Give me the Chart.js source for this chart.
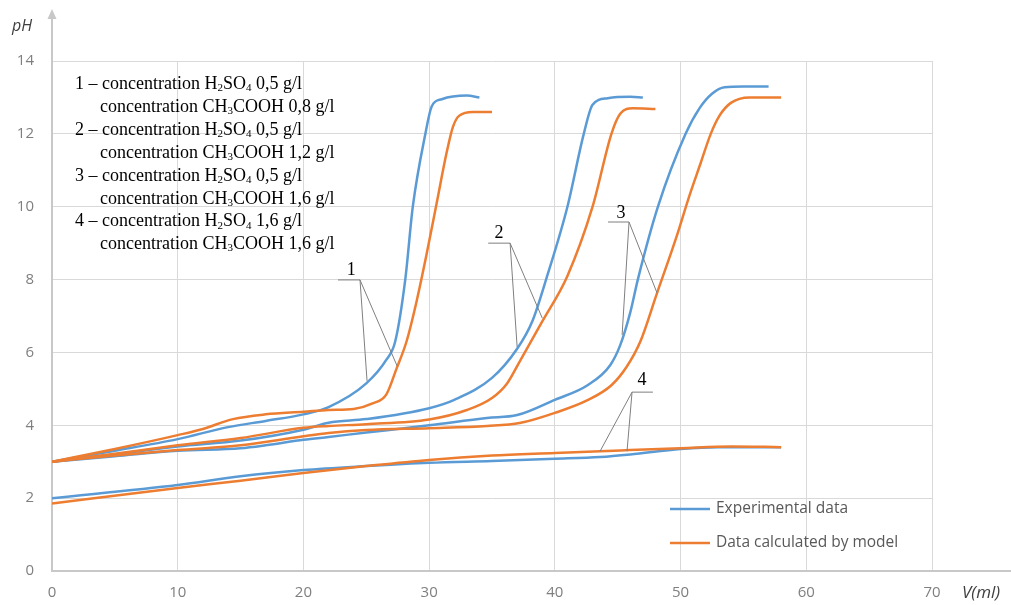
<!DOCTYPE html>
<html lang="en">
<head>
  <meta charset="UTF-8">
  <title>pH titration curves</title>
  <script src="https://cdn.jsdelivr.net/npm/chart.js"></script>
  <style>
    html, body { margin: 0; padding: 0; background: #ffffff; }
    .chart-container { width: 1011px; height: 605px; position: relative; }
  </style>
</head>
<body>
  <div class="chart-container">
    <canvas id="phChart" width="1011" height="605"></canvas>
  </div>

  <script>
    // axis ticks
    const xTicks = [0, 10, 20, 30, 40, 50, 60, 70];
    const yTicks = [0, 2, 4, 6, 8, 10, 12, 14];

    // series: [V (ml), pH]
    const exp1 = [[0, 3.0], [5, 3.3], [10, 3.62], [14, 3.95], [17, 4.12], [20, 4.3], [22, 4.5], [25, 5.15],
      [26.6, 5.8], [27.3, 6.3], [28.1, 8.0], [28.7, 10.0], [29.7, 12.0], [30.2, 12.75], [31, 12.95], [33, 13.05], [34, 13.0]];
    const model1 = [[0, 3.0], [5, 3.35], [10, 3.73], [12, 3.9], [14.4, 4.17], [17, 4.3], [20, 4.37], [22, 4.42], [24, 4.45],
      [25.5, 4.6], [26.6, 4.85], [27.4, 5.55], [28.2, 6.3], [29, 7.4], [29.8, 8.7], [30.6, 10.1], [31.4, 11.5],
      [31.9, 12.2], [32.4, 12.5], [33.5, 12.6], [35, 12.6]];
    const exp2 = [[0, 3.0], [5, 3.2], [10, 3.42], [15, 3.58], [20, 3.88], [22, 4.07], [25, 4.17], [30, 4.47], [32, 4.7],
      [35, 5.3], [37, 6.1], [38.2, 6.85], [39.3, 8.0], [41, 10.0], [42.3, 12.0], [43, 12.8], [44.2, 12.98], [46, 13.02], [47, 13.0]];
    const model2 = [[0, 3.0], [5, 3.22], [10, 3.45], [15, 3.65], [20, 3.93], [22, 3.98], [25, 4.03], [30, 4.16], [33, 4.42],
      [35, 4.75], [36.2, 5.15], [37.2, 5.75], [39, 6.85], [41, 8.1], [43, 10.0], [44.5, 12.0], [45.2, 12.55], [46.2, 12.7], [48, 12.68]];
    const exp3 = [[0, 3.0], [5, 3.15], [10, 3.3], [15, 3.37], [17, 3.45], [20, 3.6], [22, 3.68], [25, 3.8], [30, 4.0],
      [34.6, 4.2], [37, 4.28], [40, 4.7], [42.6, 5.1], [44.4, 5.65], [45.2, 6.2], [46, 7.1], [46.6, 8.0], [48.2, 10.0],
      [50.4, 12.0], [51.5, 12.7], [52.5, 13.1], [53.5, 13.28], [55, 13.3], [57, 13.3]];
    const model3 = [[0, 3.0], [5, 3.17], [10, 3.32], [15, 3.45], [20, 3.7], [22, 3.79], [25, 3.87], [30, 3.92], [34.6, 3.98],
      [37.2, 4.06], [40, 4.34], [42.6, 4.69], [44.5, 5.1], [45.7, 5.6], [46.8, 6.3], [48.1, 7.6], [49.7, 9.2], [50.7, 10.3],
      [51.6, 11.2], [52.4, 12.0], [53.1, 12.5], [54, 12.85], [55.5, 13.0], [58, 13.0]];
    const exp4 = [[0, 2.0], [10, 2.36], [15, 2.6], [20, 2.77], [25, 2.88], [30, 2.97], [35, 3.02], [40, 3.08],
      [43.6, 3.13], [46, 3.2], [50, 3.35], [53, 3.4], [58, 3.4]];
    const model4 = [[0, 1.85], [10, 2.28], [15, 2.48], [20, 2.69], [25, 2.88], [30, 3.05], [35, 3.17], [40, 3.24],
      [43.6, 3.29], [46, 3.32], [50, 3.37], [54, 3.42], [58, 3.4]];

    const seriesNames = ['Experimental data', 'Data calculated by model'];

    // curve labels 1..4 with their leader lines, in data units
    const annoText = ['1', '2', '3', '4'];
    const annoTextPos = [[23.8, 8.26], [35.56, 9.28], [45.27, 9.83], [46.94, 5.24]];
    const annoBar = [[22.75, 24.5, 7.99], [34.7, 36.44, 9.0], [44.23, 45.9, 9.58], [46.14, 47.8, 4.91]];
    const annoFrom = [[24.5, 7.99], [36.44, 9.0], [45.9, 9.58], [46.14, 4.91]];
    const annoTo = [
      [[25.06, 5.22], [27.45, 5.63]],
      [[37.0, 6.15], [39.0, 6.94]],
      [[45.35, 6.48], [48.13, 7.63]],
      [[43.6, 3.29], [45.74, 3.29]]
    ];

    // description block, '_' marks a subscript run
    const noteLines = [
      [75, ['1 – concentration H', '_2', 'SO', '_4', ' 0,5 g/l']],
      [100, ['concentration CH', '_3', 'COOH 0,8 g/l']],
      [75, ['2 – concentration H', '_2', 'SO', '_4', ' 0,5 g/l']],
      [100, ['concentration CH', '_3', 'COOH 1,2 g/l']],
      [75, ['3 – concentration H', '_2', 'SO', '_4', ' 0,5 g/l']],
      [100, ['concentration CH', '_3', 'COOH 1,6 g/l']],
      [75, ['4 – concentration H', '_2', 'SO', '_4', ' 1,6 g/l']],
      [100, ['concentration CH', '_3', 'COOH 1,6 g/l']]
    ];

    const BLUE = '#5b9bd5';
    const ORANGE = '#ed7d31';
    const serif = '"Liberation Serif", "DejaVu Serif", serif';
    const sans = '"Open Sans", "Noto Sans", sans-serif';

    function pts(arr) { return arr.map(p => ({ x: p[0], y: p[1] })); }

    function curve(arr, color) {
      return {
        data: pts(arr),
        borderColor: color,
        backgroundColor: color,
        borderWidth: 2.5,
        pointRadius: 0,
        showLine: true,
        fill: false,
        cubicInterpolationMode: 'monotone'
      };
    }

    function drawRich(ctx, x, y, parts, size) {
      parts.forEach(p => {
        if (p[0] === '_') {
          ctx.font = Math.round(size * 0.62) + 'px ' + serif;
          ctx.fillText(p.slice(1), x, y + size * 0.12);
          x += ctx.measureText(p.slice(1)).width;
        } else {
          ctx.font = size + 'px ' + serif;
          ctx.fillText(p, x, y);
          x += ctx.measureText(p).width;
        }
      });
    }

    const extras = {
      id: 'extras',
      afterDraw(chart) {
        const ctx = chart.ctx;
        const area = chart.chartArea;
        const xs = chart.scales.x, ys = chart.scales.y;
        ctx.save();

        // axis extensions with arrow on y
        ctx.strokeStyle = '#c8c8c8';
        ctx.fillStyle = '#c8c8c8';
        ctx.lineWidth = 2;
        ctx.beginPath();
        ctx.moveTo(area.left, area.top);
        ctx.lineTo(area.left, 16);
        ctx.moveTo(area.right, area.bottom);
        ctx.lineTo(1011, area.bottom);
        ctx.stroke();
        ctx.beginPath();
        ctx.moveTo(area.left, 9);
        ctx.lineTo(area.left - 4.5, 19);
        ctx.lineTo(area.left + 4.5, 19);
        ctx.closePath();
        ctx.fill();

        // axis titles
        ctx.fillStyle = '#404040';
        ctx.textBaseline = 'middle';
        ctx.textAlign = 'left';
        ctx.font = 'italic 16px ' + sans;
        ctx.fillText('pH', 12, 26);
        ctx.font = 'italic 17px ' + sans;
        ctx.fillText('V(ml)', 962, 593);

        // description block
        ctx.fillStyle = '#000000';
        ctx.textBaseline = 'alphabetic';
        noteLines.forEach((ln, i) => {
          drawRich(ctx, ln[0], 89 + i * 22.9, ln[1], 18);
        });

        // curve labels and leader lines
        ctx.strokeStyle = '#7f7f7f';
        ctx.lineWidth = 1;
        annoText.forEach((t, i) => {
          const b = annoBar[i];
          ctx.beginPath();
          ctx.moveTo(xs.getPixelForValue(b[0]), ys.getPixelForValue(b[2]));
          ctx.lineTo(xs.getPixelForValue(b[1]), ys.getPixelForValue(b[2]));
          annoTo[i].forEach(p => {
            ctx.moveTo(xs.getPixelForValue(annoFrom[i][0]), ys.getPixelForValue(annoFrom[i][1]));
            ctx.lineTo(xs.getPixelForValue(p[0]), ys.getPixelForValue(p[1]));
          });
          ctx.stroke();
          ctx.font = '18px ' + serif;
          ctx.textAlign = 'center';
          ctx.textBaseline = 'middle';
          ctx.fillStyle = '#000000';
          ctx.fillText(t, xs.getPixelForValue(annoTextPos[i][0]), ys.getPixelForValue(annoTextPos[i][1]));
        });

        // legend
        const legY = [509, 543];
        const legC = [BLUE, ORANGE];
        ctx.textAlign = 'left';
        ctx.font = '15.5px ' + sans;
        seriesNames.forEach((name, i) => {
          ctx.strokeStyle = legC[i];
          ctx.lineWidth = 2.5;
          ctx.beginPath();
          ctx.moveTo(670, legY[i]);
          ctx.lineTo(710, legY[i]);
          ctx.stroke();
          ctx.fillStyle = '#595959';
          ctx.fillText(name, 716, legY[i]);
        });
        ctx.restore();
      }
    };

    new Chart(document.getElementById('phChart'), {
      type: 'scatter',
      data: {
        datasets: [
          curve(model1, ORANGE), curve(model2, ORANGE), curve(model3, ORANGE), curve(model4, ORANGE),
          curve(exp1, BLUE), curve(exp2, BLUE), curve(exp3, BLUE), curve(exp4, BLUE)
        ]
      },
      options: {
        responsive: false,
        animation: false,
        layout: { padding: { left: 0, top: 61, right: 79, bottom: 0 } },
        plugins: { legend: { display: false }, tooltip: { enabled: false } },
        scales: {
          x: {
            type: 'linear',
            min: 0, max: 70,
            afterBuildTicks: s => { s.ticks = xTicks.map(v => ({ value: v })); },
            afterFit: s => { s.height = 34; },
            grid: { color: '#d9d9d9', lineWidth: 1, drawTicks: false },
            border: { color: '#c8c8c8', width: 2 },
            ticks: { color: '#7f7f7f', font: { family: sans, size: 15 }, padding: 13, maxRotation: 0 }
          },
          y: {
            type: 'linear',
            min: 0, max: 14,
            afterBuildTicks: s => { s.ticks = yTicks.map(v => ({ value: v })); },
            afterFit: s => { s.width = 52; },
            grid: { color: '#d9d9d9', lineWidth: 1, drawTicks: false },
            border: { color: '#c8c8c8', width: 2 },
            ticks: { color: '#7f7f7f', font: { family: sans, size: 15 }, padding: 18 }
          }
        }
      },
      plugins: [extras]
    });
  </script>
</body>
</html>
